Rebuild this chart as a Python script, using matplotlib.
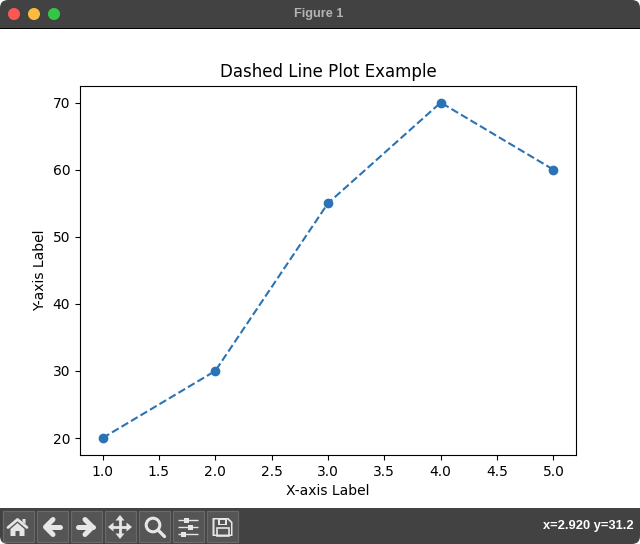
import matplotlib
matplotlib.use("Agg")
import matplotlib.pyplot as plt
from matplotlib.patches import Circle, FancyBboxPatch, Polygon, Rectangle

# Chart data
x_values = [1, 2, 3, 4, 5]
y_values = [20, 30, 55, 70, 60]

W, H = 640, 544
BAR_COLOR = "#424242"
BUTTON_COLOR = "#555555"
ICON_COLOR = "#e6e6e6"
LINE_COLOR = "#2a73b4"
UI_FONT = ["Liberation Sans", "DejaVu Sans"]

fig = plt.figure(figsize=(W / 100, H / 100), dpi=100, facecolor="white")

# Main plot, placed to sit between the window bars
ax = fig.add_axes([80 / W, 1 - 454.8 / H, 496 / W, 369 / H])
ax.plot(x_values, y_values, linestyle="--", marker="o", color=LINE_COLOR)
ax.set_title("Dashed Line Plot Example")
ax.set_xlabel("X-axis Label")
ax.set_ylabel("Y-axis Label")

# Overlay in pixel coordinates for the window chrome
chrome = fig.add_axes([0, 0, 1, 1], zorder=5)
chrome.set_xlim(0, W)
chrome.set_ylim(H, 0)
chrome.axis("off")


def rect(x, y, w, h, color):
    chrome.add_patch(Rectangle((x, y), w, h, fc=color, ec="none", antialiased=False))


def rounded_bar(y, h, radius=8):
    chrome.add_patch(FancyBboxPatch((radius, y + radius), W - 2 * radius, h - 2 * radius,
                                    boxstyle=f"round,pad={radius},rounding_size={radius}",
                                    fc=BAR_COLOR, ec="none", mutation_aspect=1))


def poly(points, cx, cy, fc=ICON_COLOR):
    chrome.add_patch(Polygon([(cx + px, cy + py) for px, py in points], closed=True, fc=fc, ec="none"))


def stroke(xs, ys, lw, cap="round"):
    chrome.plot(xs, ys, color=ICON_COLOR, lw=lw, solid_capstyle=cap, solid_joinstyle="round")


def draw_home(cx, cy):
    stroke([cx - 9.5, cx, cx + 9.5], [cy + 0.5, cy - 7.5, cy + 0.5], 2)
    poly([(5, -8), (8, -8), (8, -3), (5, -5)], cx, cy)
    poly([(-7, 2), (0, -4), (7, 2), (7, 9), (2, 9), (2, 4), (-2, 4), (-2, 9), (-7, 9)], cx, cy)


def draw_arrow(cx, cy, sign):
    stroke([cx - 7 * sign, cx + 7.5 * sign], [cy, cy], 3.6)
    stroke([cx + 0.5 * sign, cx - 7 * sign, cx + 0.5 * sign], [cy - 7.5, cy, cy + 7.5], 3.6)


def draw_move(cx, cy):
    stroke([cx - 8, cx + 8], [cy, cy], 2, cap="butt")
    stroke([cx, cx], [cy - 8, cy + 8], 2, cap="butt")
    poly([(0, -12), (4.5, -6.5), (-4.5, -6.5)], cx, cy)
    poly([(0, 12), (4.5, 6.5), (-4.5, 6.5)], cx, cy)
    poly([(-12, 0), (-6.5, -4.5), (-6.5, 4.5)], cx, cy)
    poly([(12, 0), (6.5, -4.5), (6.5, 4.5)], cx, cy)


def draw_zoom(cx, cy):
    chrome.add_patch(Circle((cx - 2, cy - 2), 6.8, fc="none", ec=ICON_COLOR, lw=2.2))
    stroke([cx + 3.5, cx + 9.5], [cy + 3.5, cy + 9.5], 2.4)


def draw_sliders(cx, cy):
    for dy, knob in [(-7, -2), (0, 2), (7, -5)]:
        stroke([cx - 10, cx + 10], [cy + dy, cy + dy], 1, cap="butt")
        rect(cx + knob - 2, cy + dy - 2.5, 5, 5, ICON_COLOR)


def draw_save(cx, cy):
    poly([(-10, -9), (6, -9), (10, -5), (10, 9), (-10, 9)], cx, cy)
    poly([(-8, -7.5), (5, -7.5), (8.5, -4), (8.5, 7.5), (-8, 7.5)], cx, cy, fc=BUTTON_COLOR)
    rect(cx - 5, cy - 8, 9, 6, ICON_COLOR)
    rect(cx - 3, cy - 7, 5, 4, BUTTON_COLOR)
    chrome.add_patch(Rectangle((cx - 6, cy + 1), 12, 7.5, fc="none", ec=ICON_COLOR, lw=1.2))


# Title bar
rounded_bar(0, 28)
rect(0, 14, W, 14, BAR_COLOR)
rect(0, 28, W, 1, "black")
for px, color in zip([14, 34, 54], ["#fc5753", "#fdbc40", "#33c748"]):
    chrome.add_patch(Circle((px, 14), 6, fc=color, ec="none"))
chrome.text(319, 14, "Figure 1", color="#b4b4b4", fontsize=9.2, fontweight="bold",
            family=UI_FONT, ha="center", va="center")

# Toolbar
rounded_bar(508, 36)
rect(0, 508, W, 20, BAR_COLOR)
button_left = [2, 36, 70, 104, 138, 172, 206]
icon_center = [17.5, 52.5, 85.5, 120, 155, 188, 222.5]
drawers = [
    draw_home,
    lambda cx, cy: draw_arrow(cx, cy, 1),
    lambda cx, cy: draw_arrow(cx, cy, -1),
    draw_move,
    draw_zoom,
    draw_sliders,
    draw_save,
]
for left, cx, draw in zip(button_left, icon_center, drawers):
    chrome.add_patch(Rectangle((left + 0.5, 510.5), 31, 31, fc=BUTTON_COLOR, ec="#6a6a6a", lw=0.9))
    draw(cx, 527)

chrome.text(634, 526.5, "x=2.920 y=31.2", color="white", fontsize=9.3, fontweight="bold",
            family=UI_FONT, ha="right", va="center")

fig.savefig("out.png", dpi=100)
